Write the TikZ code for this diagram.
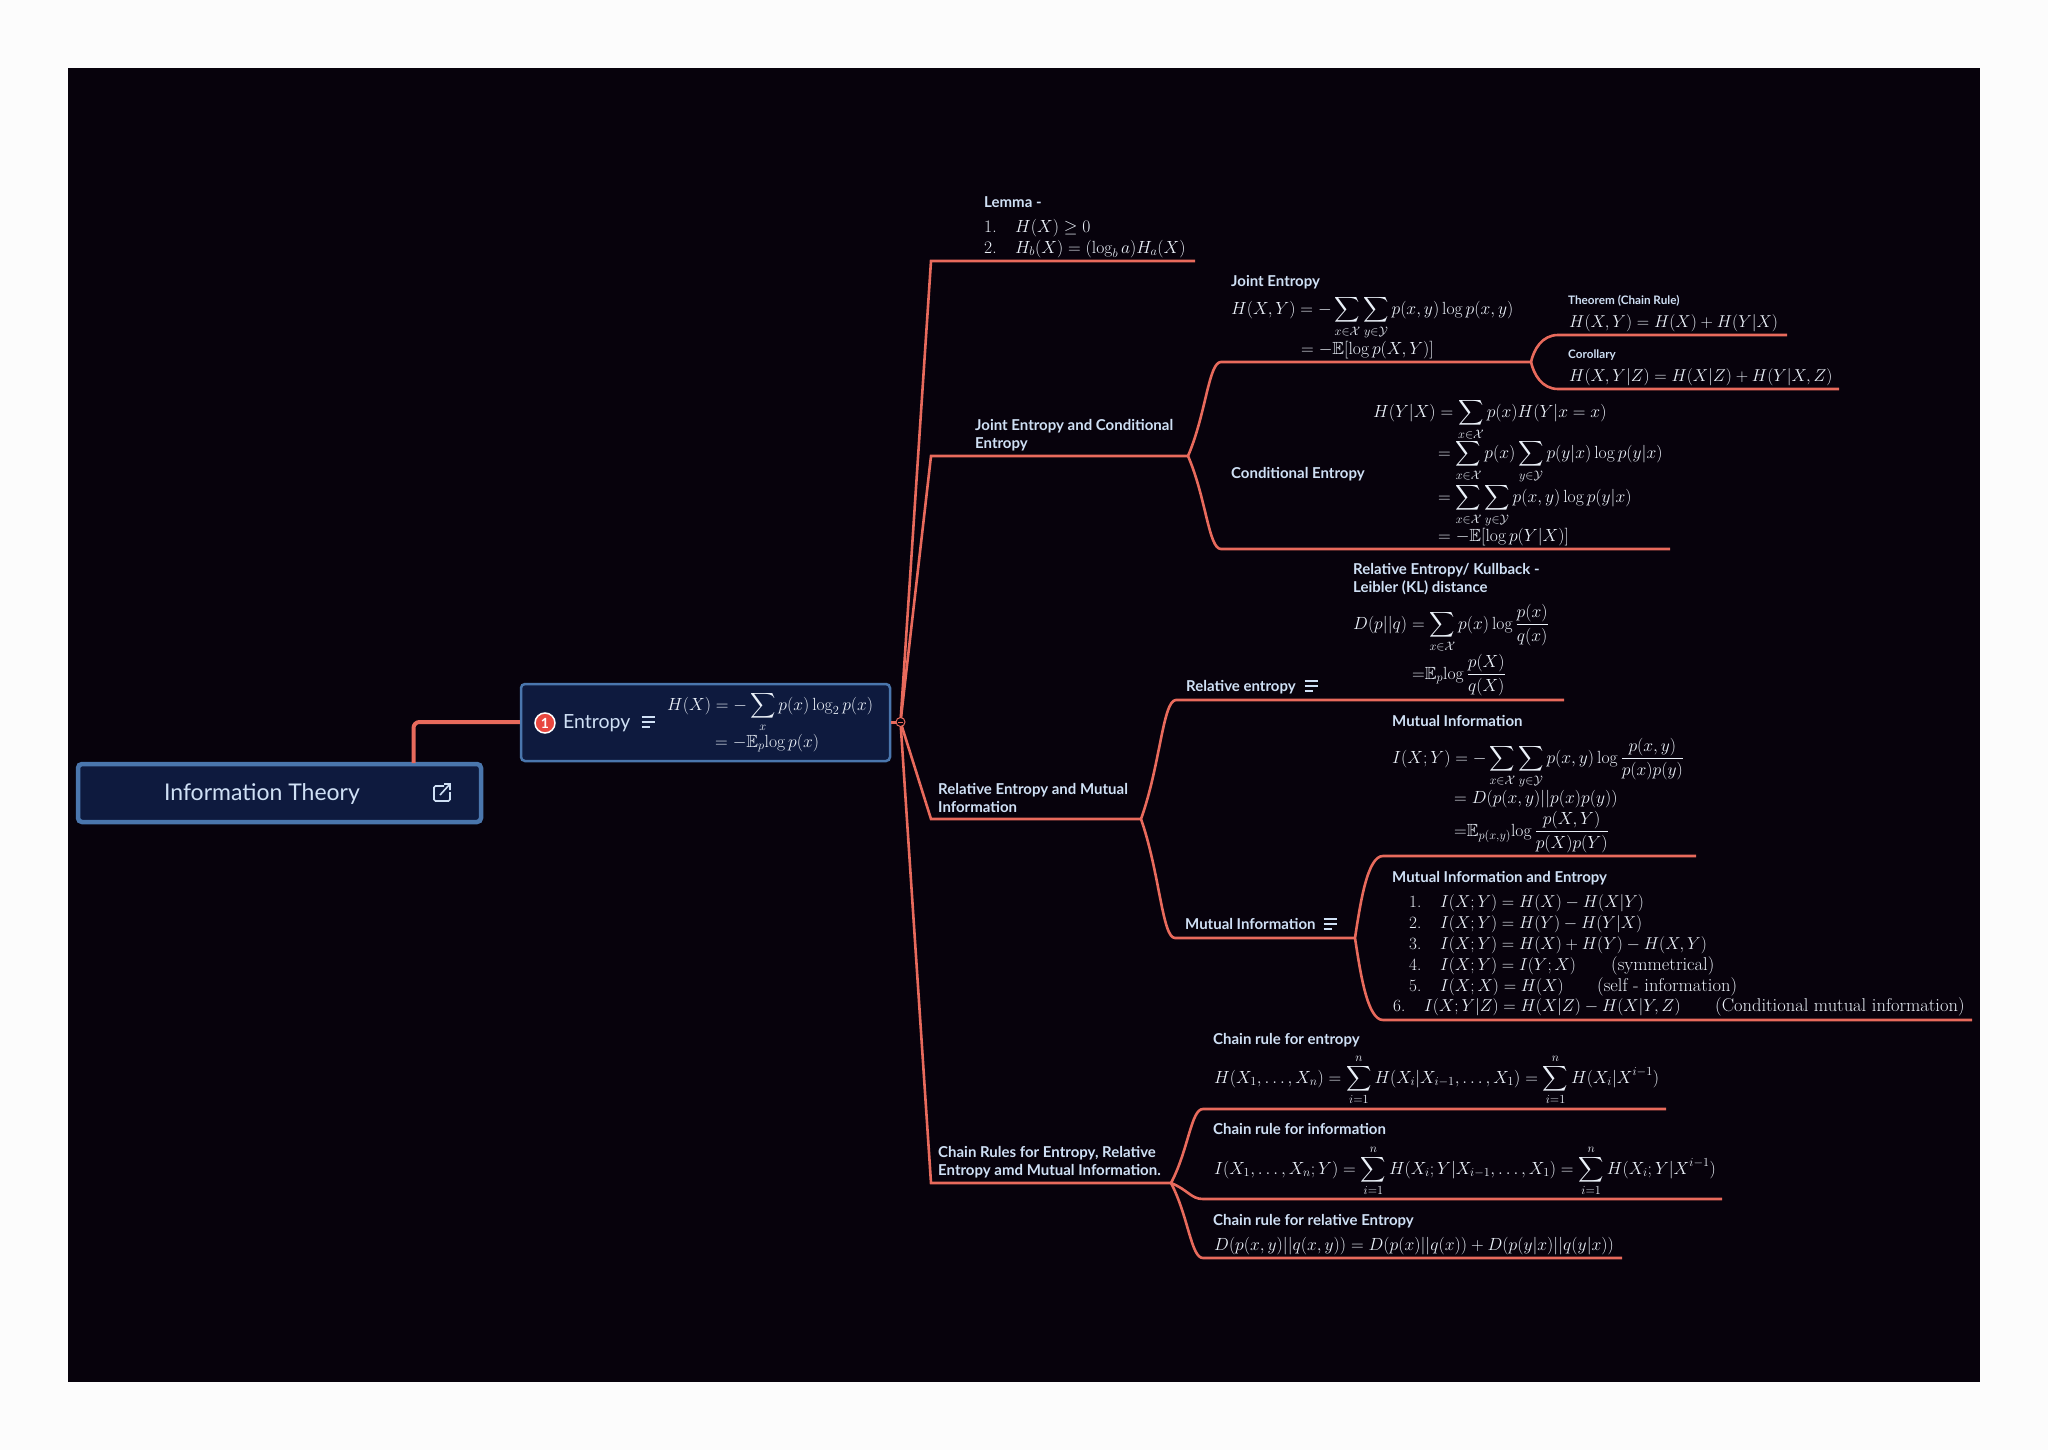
\documentclass[tikz,border=0pt]{standalone}
\usepackage{fix-cm}
\usepackage{amsmath,amssymb}
\usepackage{fontspec}
\newfontfamily\uifont{Lato}
\usetikzlibrary{calc}

\definecolor{canvas}{HTML}{07020C}
\definecolor{boxfill}{HTML}{0E1A3E}
\definecolor{boxedge}{HTML}{4A76AD}
\definecolor{branch}{HTML}{E86A5C}
\definecolor{ink}{HTML}{CFE0F5}
\definecolor{mathink}{HTML}{EAF0F8}
\definecolor{badge}{HTML}{E8473F}

\newcommand{\branchto}[3][.55]{%
  \draw[link] let \p1=(#2), \p2=(#3) in (#2)
    .. controls ({\x1+#1*(\x2-\x1)},{\y1+.45*(\y2-\y1)})
    and ({\x1+(#1+.7)/2*(\x2-\x1)},\y2) .. (#3)}
\newcommand{\itemno}[1]{\hbox to 31pt{#1\hss}}
\newcommand{\noteicon}[1]{%
  \draw[icon] ($(#1)+(-6.5,-5)$) -- ++(13,0) ($(#1)+(-6.5,0)$) -- ++(13,0) ($(#1)+(-6.5,5)$) -- ++(8,0)}

\begin{document}
\begin{tikzpicture}[
  x=1pt,y=-1pt,
  link/.style={branch,line width=2.6pt},
  icon/.style={ink,line width=1.2pt},
  head/.style={anchor=mid west,yshift=-3.5pt,inner sep=0pt,text=ink,font=\uifont\bfseries\fontsize{15}{18.5}\selectfont},
  smallhead/.style={head,font=\uifont\bfseries\fontsize{11.7}{14}\selectfont},
  topic/.style={head,anchor=west,yshift=2pt,align=left},
  eqn/.style={anchor=mid west,yshift=-3pt,inner sep=0pt,text=mathink,font=\fontsize{17.6}{20}\selectfont,
    execute at begin node=$\displaystyle,execute at end node=$},
  listeqn/.style={eqn,font=\fontsize{17.2}{20}\selectfont},
  remark/.style={eqn,font=\fontsize{18.5}{20}\selectfont},
]
  \useasboundingbox (0,0) rectangle (2048,1450);
  \fill[white!99!black] (0,0) rectangle (2048,1450);
  \fill[canvas] (68,68) rectangle (1980,1382);

  % central boxes
  \node[draw=boxedge,fill=boxfill,line width=4.5pt,rounded corners=4pt,minimum width=403pt,minimum height=58pt,inner sep=0pt] (infoBox) at (279.5,793) {};
  \node[draw=boxedge,fill=boxfill,line width=2.5pt,rounded corners=4pt,minimum width=369pt,minimum height=77pt,inner sep=0pt] (entropyBox) at (705.5,722.5) {};
  \coordinate (root) at (900.5,722);
  \coordinate (infoBend) at (413.5,722);
  \coordinate (infoTop) at (413.5,763);
  \draw[branch,line width=4pt,rounded corners=6pt] (infoTop) -- (infoBend) -- (infoBend -| entropyBox.west);
  \draw[branch,line width=3pt] (entropyBox.east |- root) -- (root);

  \node[anchor=center,inner sep=0pt,text=ink,font=\uifont\fontsize{23}{26}\selectfont] (infoText) at (262,794) {Information Theory};
  \coordinate (infoIcon) at (442,793);
  \draw[ink,line width=1.6pt,rounded corners=1.5pt] ($(infoIcon)+(2,-7)$) -- ($(infoIcon)+(-8,-7)$) -- ($(infoIcon)+(-8,8)$) -- ($(infoIcon)+(8,8)$) -- ($(infoIcon)+(8,-1)$);
  \draw[ink,line width=1.6pt] ($(infoIcon)+(-2,2)$) -- ($(infoIcon)+(8,-9)$) ($(infoIcon)+(2,-9)$) -- ($(infoIcon)+(8,-9)$) -- ($(infoIcon)+(8,-3)$);

  \node[circle,draw=white,fill=badge,line width=1.5pt,minimum size=20pt,inner sep=0pt,text=white,font=\uifont\bfseries\fontsize{14}{14}\selectfont] (badgeOne) at (545,723) {1};
  \node[head,font=\uifont\fontsize{19.5}{22}\selectfont] (entropyText) at (563,723) {Entropy};
  \coordinate (entropyIcon) at (648,722);
  \noteicon{entropyIcon};
  \node[eqn] (entropyEqA) at (667,705) {H(X) = -\sum_{x} p(x)\log_2 p(x)};
  \node[eqn] (entropyEqB) at (715,742) {= -\mathbb{E}_p\!\log p(x)};

  % lemma
  \coordinate (lemmaBend) at (931,261);
  \coordinate (lemmaEnd) at (1195,261);
  \draw[link] (root) -- (lemmaBend) -- (lemmaEnd);
  \node[head] (lemmaHead) at (984,202) {Lemma -};
  \node[eqn] (lemmaOne) at (984,227) {\itemno{1.}H(X)\geq 0};
  \node[eqn] (lemmaTwo) at (984,248) {\itemno{2.}H_b(X) = (\log_b a)H_a(X)};

  % joint entropy and conditional entropy
  \coordinate (jointBend) at (931,456);
  \coordinate (jointFork) at (1188,456);
  \draw[link] (root) -- (jointBend) -- (jointFork);
  \node[topic] (jointTopic) at (975,433.5) {Joint Entropy and Conditional\\Entropy};
  \coordinate (jeFork) at (1531,362);
  \coordinate (ceEnd) at (1670,549);
  \coordinate (jeCurve) at (1221,362);
  \coordinate (ceCurve) at (1221,549);
  \branchto{jointFork}{jeCurve} -- (jeFork);
  \branchto{jointFork}{ceCurve} -- (ceEnd);
  \node[head] (jeHead) at (1231,281) {Joint Entropy};
  \node[eqn] (jeEqA) at (1231,309) {H(X,Y) = -\sum_{x\in\mathcal{X}}\sum_{y\in\mathcal{Y}} p(x,y)\log p(x,y)};
  \node[eqn] (jeEqB) at (1301,349) {= -\mathbb{E}[\log p(X,Y)]};
  \node[head] (ceHead) at (1231,473) {Conditional Entropy};
  \node[eqn] (ceEqA) at (1373,412) {H(Y|X) = \sum_{x\in\mathcal{X}} p(x)H(Y|x=x)};
  \node[eqn] (ceEqB) at (1438,453) {= \sum_{x\in\mathcal{X}} p(x)\sum_{y\in\mathcal{Y}} p(y|x)\log p(y|x)};
  \node[eqn] (ceEqC) at (1438,497) {= \sum_{x\in\mathcal{X}}\sum_{y\in\mathcal{Y}} p(x,y)\log p(y|x)};
  \node[eqn] (ceEqD) at (1438,536) {= -\mathbb{E}[\log p(Y|X)]};

  % chain rule and corollary
  \coordinate (thmCurve) at (1558,335);
  \coordinate (thmEnd) at (1787,335);
  \coordinate (corCurve) at (1558,389);
  \coordinate (corEnd) at (1839,389);
  \branchto[.1]{jeFork}{thmCurve} -- (thmEnd);
  \branchto[.1]{jeFork}{corCurve} -- (corEnd);
  \node[smallhead] (thmHead) at (1568,299) {Theorem (Chain Rule)};
  \node[listeqn] (thmEq) at (1569,322) {H(X,Y) = H(X) + H(Y|X)};
  \node[smallhead] (corHead) at (1568,353) {Corollary};
  \node[listeqn] (corEq) at (1569,376) {H(X,Y|Z) = H(X|Z) + H(Y|X,Z)};

  % relative entropy and mutual information
  \coordinate (relBend) at (931,819);
  \coordinate (relFork) at (1141,819);
  \draw[link] (root) -- (relBend) -- (relFork);
  \node[topic] (relTopic) at (938,796.5) {Relative Entropy and Mutual\\Information};
  \coordinate (reCurve) at (1176,700);
  \coordinate (reEnd) at (1564,700);
  \coordinate (miCurve) at (1175,938);
  \coordinate (miFork) at (1355,938);
  \branchto{relFork}{reCurve} -- (reEnd);
  \branchto{relFork}{miCurve} -- (miFork);
  \node[head] (reText) at (1186,686) {Relative entropy};
  \coordinate (reIcon) at (1311,686);
  \noteicon{reIcon};
  \node[topic] (reHead) at (1353,577.5) {Relative Entropy/ Kullback -\\Leibler (KL) distance};
  \node[eqn] (reEqA) at (1353,624) {D(p||q) = \sum_{x\in\mathcal{X}} p(x)\log\frac{p(x)}{q(x)}};
  \node[eqn] (reEqB) at (1412,674) {{=}\mathbb{E}_p\!\log\frac{p(X)}{q(X)}};
  \node[head] (miText) at (1185,924) {Mutual Information};
  \coordinate (miIcon) at (1330,924);
  \noteicon{miIcon};

  \coordinate (mdCurve) at (1383,856);
  \coordinate (mdEnd) at (1696,856);
  \coordinate (mlCurve) at (1383,1020);
  \coordinate (mlEnd) at (1972,1020);
  \branchto[.2]{miFork}{mdCurve} -- (mdEnd);
  \branchto[.2]{miFork}{mlCurve} -- (mlEnd);
  \node[head] (mdHead) at (1392,721) {Mutual Information};
  \node[eqn] (mdEqA) at (1392,758) {I(X;Y) = -\sum_{x\in\mathcal{X}}\sum_{y\in\mathcal{Y}} p(x,y)\log\frac{p(x,y)}{p(x)p(y)}};
  \node[eqn] (mdEqB) at (1454,798) {= D(p(x,y)||p(x)p(y))};
  \node[eqn] (mdEqC) at (1454,831) {{=}\mathbb{E}_{p(x,y)}\!\log\frac{p(X,Y)}{p(X)p(Y)}};
  \node[head] (mlHead) at (1392,877) {Mutual Information and Entropy};
  \node[listeqn] (mlOne) at (1409,902) {\itemno{1.}I(X;Y) = H(X) - H(X|Y)};
  \node[listeqn] (mlTwo) at (1409,923) {\itemno{2.}I(X;Y) = H(Y) - H(Y|X)};
  \node[listeqn] (mlThree) at (1409,944) {\itemno{3.}I(X;Y) = H(X) + H(Y) - H(X,Y)};
  \node[listeqn] (mlFour) at (1409,965) {\itemno{4.}I(X;Y) = I(Y;X)};
  \node[remark] (mlFourNote) at (1611,965) {\text{(symmetrical)}};
  \node[listeqn] (mlFive) at (1409,986) {\itemno{5.}I(X;X) = H(X)};
  \node[remark] (mlFiveNote) at (1597,986) {\text{(self - information)}};
  \node[listeqn] (mlSix) at (1393,1006) {\itemno{6.}I(X;Y|Z) = H(X|Z) - H(X|Y,Z)};
  \node[remark] (mlSixNote) at (1715,1006) {\text{(Conditional mutual information)}};

  % chain rules
  \coordinate (chainBend) at (931,1183);
  \coordinate (chainFork) at (1171,1183);
  \draw[link] (root) -- (chainBend) -- (chainFork);
  \node[topic] (chainTopic) at (938,1160.5) {Chain Rules for Entropy, Relative\\Entropy amd Mutual Information.};
  \coordinate (crCurve) at (1203,1109);
  \coordinate (crEnd) at (1666,1109);
  \coordinate (ciCurve) at (1203,1199);
  \coordinate (ciEnd) at (1722,1199);
  \coordinate (cdCurve) at (1203,1258);
  \coordinate (cdEnd) at (1622,1258);
  \branchto{chainFork}{crCurve} -- (crEnd);
  \branchto{chainFork}{ciCurve} -- (ciEnd);
  \branchto{chainFork}{cdCurve} -- (cdEnd);
  \node[head] (crHead) at (1213,1039) {Chain rule for entropy};
  \node[eqn] (crEq) at (1214,1078) {H(X_1,\ldots,X_n) = \sum_{i=1}^{n} H(X_i|X_{i-1},\ldots,X_1) = \sum_{i=1}^{n} H(X_i|X^{i-1})};
  \node[head] (ciHead) at (1213,1129) {Chain rule for information};
  \node[eqn] (ciEq) at (1214,1169) {I(X_1,\ldots,X_n;Y) = \sum_{i=1}^{n} H(X_i;Y|X_{i-1},\ldots,X_1) = \sum_{i=1}^{n} H(X_i;Y|X^{i-1})};
  \node[head] (cdHead) at (1213,1220) {Chain rule for relative Entropy};
  \node[eqn] (cdEq) at (1214,1245) {D(p(x,y)||q(x,y)) = D(p(x)||q(x)) + D(p(y|x)||q(y|x))};

  % collapse marker on top of the branches
  \filldraw[fill=canvas,draw=branch,line width=1pt] (root) circle (4.5pt);
  \draw[branch,line width=1pt] ($(root)+(-2.5,0)$) -- ($(root)+(2.5,0)$);
\end{tikzpicture}
\end{document}
